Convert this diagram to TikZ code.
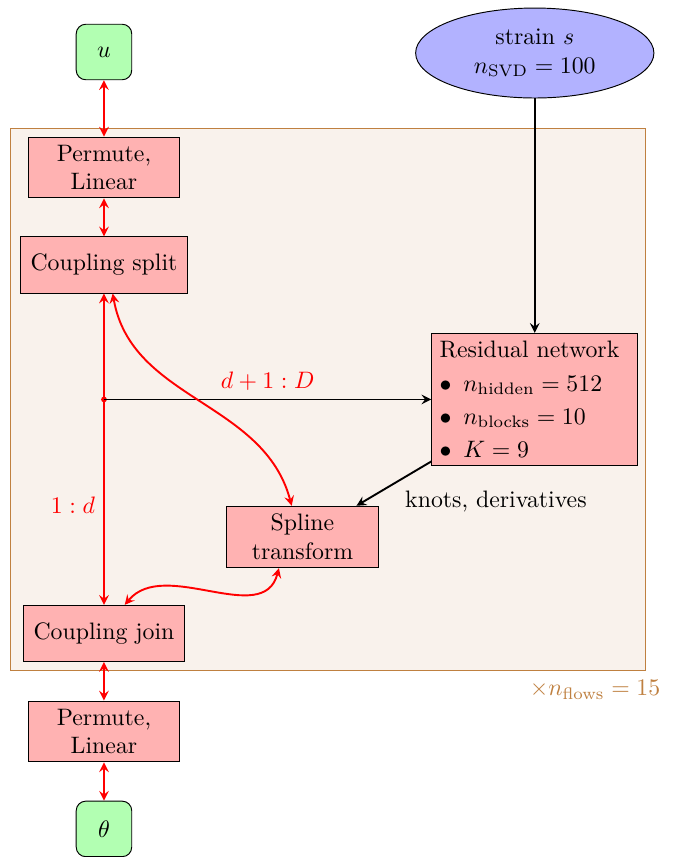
\documentclass[tikz,border=0pt]{standalone}
\usepackage{amsmath}
\usetikzlibrary{shapes.geometric}

\begin{document}
\begin{tikzpicture}[
    >=stealth,
    var/.style={draw,fill=green!30,rounded corners=4pt,minimum size=0.82cm},
    layer/.style={draw,fill=red!30,align=center,minimum height=0.83cm},
    flow/.style={<->,red,thick},
    cond/.style={->,thick},
  ]
  \useasboundingbox (0,0) rectangle (9.985,-12.66);

  % one flow step, repeated n_flows times
  \draw[brown,fill=brown!10] (0.162,-1.891) rectangle (9.542,-9.911);
  \node[brown] (nflows) at (8.79,-10.19) {$\times n_{\text{flows}} = 15$};

  \node[var] (u) at (1.536,-0.768) {$u$};
  \node[draw,fill=blue!30,ellipse,align=center,minimum width=3.52cm,minimum height=1.29cm]
    (strain) at (7.90,-0.783) {strain $s$\\$n_{\mathrm{SVD}} = 100$};

  \node[layer,text width=2cm] (perm1) at (1.536,-2.474) {Permute,\\Linear};
  \node[layer,minimum width=2.47cm] (split) at (1.536,-3.914) {Coupling split};
  \node[draw,fill=red!30,align=left,text width=2.8cm] (resnet) at (7.895,-5.901)
    {Residual network\\[2pt]
     $\bullet$\enspace$n_{\text{hidden}} = 512$\\[2pt]
     $\bullet$\enspace$n_{\text{blocks}} = 10$\\[2pt]
     $\bullet$\enspace$K = 9$};
  \node[layer,text width=2cm] (spline) at (4.468,-7.932) {Spline\\transform};
  \node[layer,minimum width=2.39cm] (join) at (1.536,-9.357) {Coupling join};
  \node[layer,text width=2cm] (perm2) at (1.536,-10.805) {Permute,\\Linear};
  \node[var] (theta) at (1.536,-12.245) {$\theta$};

  \coordinate (branch) at (split.south |- resnet.west);
  \node (knots) at (7.326,-7.415) {knots, derivatives};

  \draw[flow] (u) -- (perm1);
  \draw[flow] (perm1) -- (split);
  \draw[flow] (split) -- (join) node[pos=0.68,left] {$1:d$};
  \fill[red] (branch) circle (1.2pt);
  \draw[cond] (branch) -- (resnet.west) node[midway,above,red] {$d+1:D$};
  \draw[flow] (split.-73) to[out=-80,in=105] (spline.109);
  \draw[flow] (spline.-127) to[out=-105,in=50] (join.54);
  \draw[cond] (strain.south) -- (strain.south |- resnet.north);
  \draw[cond] (resnet.-149) -- (spline.30);
  \draw[flow] (join) -- (perm2);
  \draw[flow] (perm2) -- (theta);
\end{tikzpicture}
\end{document}
